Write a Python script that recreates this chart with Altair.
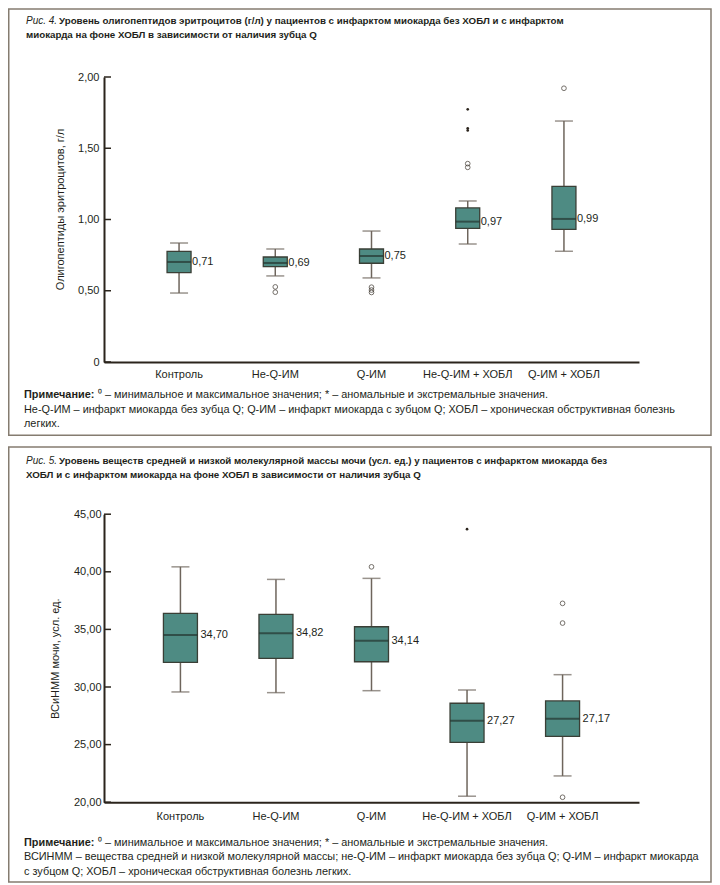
import altair as alt
import pandas as pd

# ---------------- data ----------------
categories = ["Контроль", "Не-Q-ИМ", "Q-ИМ", "Не-Q-ИМ + ХОБЛ", "Q-ИМ + ХОБЛ"]

# Figure 4: erythrocyte oligopeptides, g/l
f4_lo = [0.484, 0.604, 0.590, 0.828, 0.777]
f4_q1 = [0.627, 0.669, 0.693, 0.938, 0.931]
f4_med = [0.702, 0.695, 0.744, 0.985, 1.004]
f4_q3 = [0.777, 0.737, 0.793, 1.081, 1.233]
f4_hi = [0.835, 0.793, 0.919, 1.130, 1.691]
f4_labels = ["0,71", "0,69", "0,75", "0,97", "0,99"]
f4_out_cat = ["Не-Q-ИМ", "Не-Q-ИМ", "Q-ИМ", "Q-ИМ", "Q-ИМ", "Не-Q-ИМ + ХОБЛ", "Не-Q-ИМ + ХОБЛ", "Q-ИМ + ХОБЛ"]
f4_out_val = [0.527, 0.490, 0.525, 0.505, 0.488, 1.392, 1.366, 1.921]
f4_ext_cat = ["Не-Q-ИМ + ХОБЛ", "Не-Q-ИМ + ХОБЛ", "Не-Q-ИМ + ХОБЛ"]
f4_ext_val = [1.773, 1.640, 1.625]
f4_ticks = [0, 0.5, 1.0, 1.5, 2.0]
f4_tick_labels = ["0", "0,50", "1,00", "1,50", "2,00"]

# Figure 5: urine medium/low molecular weight substances, conv. units
f5_lo = [29.57, 29.51, 29.68, 20.52, 22.28]
f5_q1 = [32.14, 32.49, 32.19, 25.20, 25.72]
f5_med = [34.51, 34.66, 34.02, 27.08, 27.25]
f5_q3 = [36.39, 36.31, 35.23, 28.59, 28.79]
f5_hi = [40.43, 39.34, 39.43, 29.74, 31.07]
f5_labels = ["34,70", "34,82", "34,14", "27,27", "27,17"]
f5_out_cat = ["Q-ИМ", "Q-ИМ + ХОБЛ", "Q-ИМ + ХОБЛ", "Q-ИМ + ХОБЛ"]
f5_out_val = [40.43, 37.26, 35.55, 20.43]
f5_ext_cat = ["Не-Q-ИМ + ХОБЛ"]
f5_ext_val = [43.70]
f5_ticks = [20, 25, 30, 35, 40, 45]
f5_tick_labels = ["20,00", "25,00", "30,00", "35,00", "40,00", "45,00"]

# texts
f4_title_num = "Рис. 4."
f4_title = ["Уровень олигопептидов эритроцитов (г/л) у пациентов с инфарктом миокарда без ХОБЛ и с инфарктом",
            "миокарда на фоне ХОБЛ в зависимости от наличия зубца Q"]
f4_ytitle = "Олигопептиды эритроцитов, г/л"
f4_notes = ["⁰ – минимальное и максимальное значения; * – аномальные и экстремальные значения.",
            "Не-Q-ИМ – инфаркт миокарда без зубца Q; Q-ИМ – инфаркт миокарда с зубцом Q; ХОБЛ – хроническая обструктивная болезнь",
            "легких."]

f5_title_num = "Рис. 5."
f5_title = ["Уровень веществ средней и низкой молекулярной массы мочи (усл. ед.) у пациентов с инфарктом миокарда без",
            "ХОБЛ и с инфарктом миокарда на фоне ХОБЛ в зависимости от наличия зубца Q"]
f5_ytitle = "ВСиНММ мочи, усл. ед."
f5_notes = ["⁰ – минимальное и максимальное значения; * – аномальные и экстремальные значения.",
            "ВСИНММ – вещества средней и низкой молекулярной массы; не-Q-ИМ – инфаркт миокарда без зубца Q; Q-ИМ – инфаркт миокарда",
            "с зубцом Q; ХОБЛ – хроническая обструктивная болезнь легких."]
note_head = "Примечание:"

# ---------------- style ----------------
W = 535
TEXT = "#231f1a"
AXIS = "#2b241c"
FRAME = "#857c70"
FILL = "#4e8b83"
BOXSTROKE = "#3a3f36"
MEDIAN = "#24352f"
WHISK = "#6e655c"
SANS = "Liberation Sans, Arial"
TITLE_FS = 9.75
NOTE_FS = 10.9


def label_expr(vals, labs):
    e = "''"
    for v, l in reversed(list(zip(vals, labs))):
        e = f"datum.value == {v} ? '{l}' : ({e})"
    return e


def panel(lo, q1, med, q3, hi, labels, out_cat, out_val, ext_cat, ext_val,
          ticks, tick_labels, ydom, H, ytitle, title_y, title_pad, pad_outer,
          box_w, cap_w, lab_dx, xlab_pad, ylab_pad,
          title_num, title_lines, notes, frame, title_pos, note_pos):
    stats = pd.DataFrame({"cat": categories, "lo": lo, "q1": q1, "med": med,
                          "q3": q3, "hi": hi, "lab": labels})
    outs = pd.DataFrame({"cat": out_cat, "v": out_val})
    exts = pd.DataFrame({"cat": ext_cat, "v": ext_val})
    tdf = pd.DataFrame({"t": ticks})
    one = pd.DataFrame({"a": [0]})

    xs = alt.Scale(domain=categories, paddingInner=0, paddingOuter=pad_outer)
    ys = alt.Scale(domain=ydom, nice=False, zero=False)
    x_enc = alt.X("cat:N", sort=categories, scale=xs,
                  axis=alt.Axis(title=None, labelAngle=0, ticks=False, domain=True,
                                domainColor=AXIS, domainWidth=2, labelFont=SANS,
                                labelFontSize=11, labelColor=TEXT,
                                labelPadding=xlab_pad))
    yaxis = alt.Axis(title=ytitle, values=ticks, labelExpr=label_expr(ticks, tick_labels),
                     ticks=False, grid=False, domainColor=AXIS, domainWidth=2,
                     labelFont=SANS, labelFontSize=11, labelColor=TEXT,
                     labelPadding=ylab_pad, titleFont=SANS, titleFontSize=11,
                     titleFontWeight="normal", titleColor=TEXT,
                     titlePadding=title_pad, **({"titleY": title_y} if title_y is not None else {}))

    base = alt.Chart(stats)
    whisk = base.mark_rule(color=WHISK, strokeWidth=1.5).encode(
        x=x_enc, y=alt.Y("lo:Q", scale=ys, axis=yaxis), y2="hi:Q")
    caps_lo = base.mark_tick(color=WHISK, size=cap_w, thickness=1.5).encode(
        x=alt.X("cat:N", sort=categories), y="lo:Q")
    caps_hi = base.mark_tick(color=WHISK, size=cap_w, thickness=1.5).encode(
        x=alt.X("cat:N", sort=categories), y="hi:Q")
    box = base.mark_bar(size=box_w, color=FILL, stroke=BOXSTROKE, strokeWidth=1.3).encode(
        x=alt.X("cat:N", sort=categories), y="q1:Q", y2="q3:Q")
    medl = base.mark_tick(color=MEDIAN, size=box_w, thickness=2).encode(
        x=alt.X("cat:N", sort=categories), y="med:Q")
    labs = base.mark_text(align="left", baseline="middle", dx=lab_dx, font=SANS,
                          fontSize=11, color=TEXT).encode(
        x=alt.X("cat:N", sort=categories), y="med:Q", text="lab:N")
    pts = alt.Chart(outs).mark_point(shape="circle", size=22, filled=False,
                                     color="#3a332b", strokeWidth=1).encode(
        x=alt.X("cat:N", sort=categories), y="v:Q")
    ex = alt.Chart(exts).mark_circle(size=7, color="#2b241c", opacity=1).encode(
        x=alt.X("cat:N", sort=categories), y="v:Q")
    yt = alt.Chart(tdf).mark_rule(color=AXIS, strokeWidth=1.5).encode(
        y="t:Q", x=alt.value(0), x2=alt.value(7))

    fr = alt.Chart(one).mark_rect(filled=False, stroke=FRAME, strokeWidth=1.5).encode(
        x=alt.value(frame[0]), x2=alt.value(frame[1]),
        y=alt.value(frame[2]), y2=alt.value(frame[3]))

    layers = [fr, whisk, caps_lo, caps_hi, box, medl, labs, pts, ex, yt]

    # title lines
    tx, ty1, ty2, tdx = title_pos
    layers.append(alt.Chart(one).mark_text(align="left", baseline="middle", font=SANS,
                                           fontSize=10, fontStyle="italic", color=TEXT).encode(
        x=alt.value(tx), y=alt.value(ty1), text=alt.value(title_num)))
    layers.append(alt.Chart(one).mark_text(align="left", baseline="middle", font=SANS,
                                           fontSize=TITLE_FS, fontWeight="bold", color=TEXT).encode(
        x=alt.value(tx + tdx), y=alt.value(ty1), text=alt.value(title_lines[0])))
    layers.append(alt.Chart(one).mark_text(align="left", baseline="middle", font=SANS,
                                           fontSize=TITLE_FS, fontWeight="bold", color=TEXT).encode(
        x=alt.value(tx), y=alt.value(ty2), text=alt.value(title_lines[1])))
    # notes
    nx, ny1, ny2, ny3, ndx = note_pos
    layers.append(alt.Chart(one).mark_text(align="left", baseline="middle", font=SANS,
                                           fontSize=NOTE_FS, fontWeight="bold", color=TEXT).encode(
        x=alt.value(nx), y=alt.value(ny1), text=alt.value(note_head)))
    layers.append(alt.Chart(one).mark_text(align="left", baseline="middle", font=SANS,
                                           fontSize=NOTE_FS, color=TEXT).encode(
        x=alt.value(nx + ndx), y=alt.value(ny1), text=alt.value(notes[0])))
    layers.append(alt.Chart(one).mark_text(align="left", baseline="middle", font=SANS,
                                           fontSize=NOTE_FS, color=TEXT).encode(
        x=alt.value(nx), y=alt.value(ny2), text=alt.value(notes[1])))
    layers.append(alt.Chart(one).mark_text(align="left", baseline="middle", font=SANS,
                                           fontSize=NOTE_FS, color=TEXT).encode(
        x=alt.value(nx), y=alt.value(ny3), text=alt.value(notes[2])))

    return alt.layer(*layers).properties(width=W, height=H)


p1 = panel(f4_lo, f4_q1, f4_med, f4_q3, f4_hi, f4_labels, f4_out_cat, f4_out_val,
           f4_ext_cat, f4_ext_val, f4_ticks, f4_tick_labels, [0, 2], 285, f4_ytitle,
           132, 12, 0.28, 24, 18, 13, 6, 5,
           f4_title_num, f4_title, f4_notes,
           frame=(-95.25, 607, -68, 358.3),
           title_pos=(-78, -56, -41.7, 33),
           note_pos=(-80, 318.3, 333.3, 347.3, 74))

p2 = panel(f5_lo, f5_q1, f5_med, f5_q3, f5_hi, f5_labels, f5_out_cat, f5_out_val,
           f5_ext_cat, f5_ext_val, f5_ticks, f5_tick_labels, [20, 45], 288, f5_ytitle,
           None, 13, 0.3, 34, 18, 20, 8, 3,
           f5_title_num, f5_title, f5_notes,
           frame=(-95.25, 607, -67.3, 367.7),
           title_pos=(-78, -53.3, -39, 33),
           note_pos=(-80, 328.5, 343.2, 357.5, 74))

chart = alt.vconcat(p1, p2, spacing=8.2).properties(padding=0).configure_view(stroke=None)

chart.save("out.html", embed_options={"renderer": "svg", "actions": False})
